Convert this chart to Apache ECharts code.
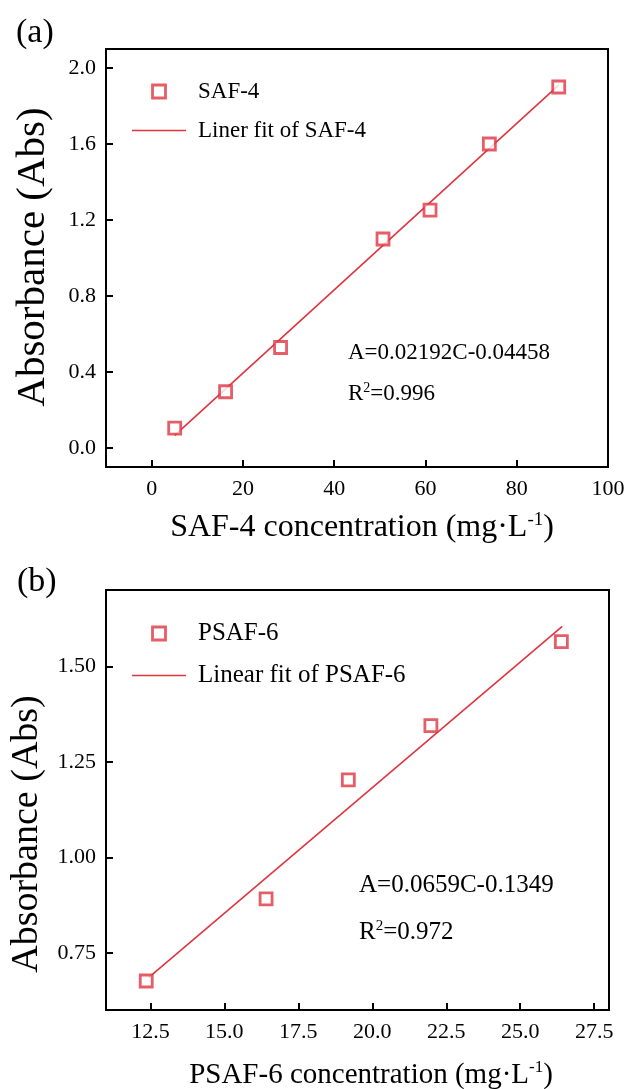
<!DOCTYPE html>
<html>
<head>
<meta charset="utf-8">
<script src="https://cdn.jsdelivr.net/npm/echarts@6/dist/echarts.min.js"></script>
<style>
html,body{margin:0;padding:0;background:#fff;}
#chart{width:629px;height:1089px;}
</style>
</head>
<body>
<div id="chart"></div>
<script>
// ---- data (a) SAF-4 ----
const concA = [5.05, 16.2, 28.25, 50.7, 61.0, 74.0, 89.2];
const absA  = [0.105, 0.296, 0.529, 1.10, 1.252, 1.60, 1.90];
const fitAX = [5.05, 89.2];
const fitAY = [0.066, 1.91];
const xTicksA = [0, 20, 40, 60, 80, 100];
const yTicksA = [0.0, 0.4, 0.8, 1.2, 1.6, 2.0];

// ---- data (b) PSAF-6 ----
const concB = [12.36, 16.41, 19.19, 21.98, 26.39];
const absB  = [0.676, 0.891, 1.2025, 1.345, 1.565];
const fitBX = [12.44, 26.42];
const fitBY = [0.685, 1.605];
const xTicksB = [12.5, 15.0, 17.5, 20.0, 22.5, 25.0, 27.5];
const yTicksB = [0.75, 1.00, 1.25, 1.50];

const namesA = ['SAF-4', 'Liner fit of SAF-4'];
const namesB = ['PSAF-6', 'Linear fit of PSAF-6'];

const FONT = '"Liberation Serif", "Times New Roman", serif';
const RED = '#df3540';
const SQUARE_ICON = 'path://M0,0h10v10h-10z';
const LINE_ICON = 'path://M0,0h36v1h-36z';

const zip = (xs, ys) => xs.map((x, i) => [x, ys[i]]);

function xAxisCfg(gi, min, max, ticks, dec) {
  return {
    gridIndex: gi, type: 'value', min: min, max: max,
    axisLine: {show: true, onZero: false, lineStyle: {color: '#000', width: 2}},
    axisTick: {show: true, inside: true, length: 7, customValues: ticks, lineStyle: {color: '#000', width: 2}},
    axisLabel: {customValues: ticks, fontFamily: FONT, fontSize: 22, color: '#000', margin: 11,
      formatter: v => dec ? Number(v).toFixed(dec) : String(v)},
    splitLine: {show: false}
  };
}
function yAxisCfg(gi, min, max, ticks, dec) {
  return {
    gridIndex: gi, type: 'value', min: min, max: max,
    axisLine: {show: true, onZero: false, lineStyle: {color: '#000', width: 2}},
    axisTick: {show: true, inside: true, length: 7, customValues: ticks, lineStyle: {color: '#000', width: 2}},
    axisLabel: {customValues: ticks, fontFamily: FONT, fontSize: 22, color: '#000', margin: 10,
      formatter: v => Number(v).toFixed(dec)},
    splitLine: {show: false}
  };
}
function legendCfg(names, top, fs, gap) {
  return {
    data: [
      {name: names[0], icon: SQUARE_ICON, itemStyle: {color: '#fff', borderColor: RED, borderWidth: 2.8}},
      {name: names[1], icon: LINE_ICON, itemStyle: {color: RED, borderWidth: 0}, lineStyle: {width: 0}}
    ],
    orient: 'vertical', left: 132, top: top, padding: 0,
    itemWidth: 54, itemHeight: 13, itemGap: gap, selectedMode: false, symbolKeepAspect: true,
    textStyle: {fontFamily: FONT, fontSize: fs, color: '#000', padding: [0, 0, 0, 7]}
  };
}
function supText(x, y, pre, sup, post, fs, align) {
  return {
    type: 'text', x: x, y: y,
    style: {
      text: '{n|' + pre + '}{s|' + sup + '}{n|' + post + '}',
      align: align || 'left', verticalAlign: 'middle',
      rich: {
        n: {fontFamily: FONT, fontSize: fs, lineHeight: fs + 6, fill: '#000'},
        s: {fontFamily: FONT, fontSize: Math.round(fs * 0.6), lineHeight: Math.round(fs * 0.6), verticalAlign: 'top', padding: [2, 0, 0, 0], fill: '#000'}
      }
    }
  };
}
function plainText(x, y, txt, fs, rot) {
  return {
    type: 'text', x: x, y: y, rotation: rot || 0,
    style: {text: txt, fontFamily: FONT, fontSize: fs, fill: '#000',
      align: rot ? 'center' : 'left', verticalAlign: 'middle'}
  };
}

const chart = echarts.init(document.getElementById('chart'), null, {renderer: 'canvas'});
chart.setOption({
  animation: false,
  backgroundColor: '#fff',
  grid: [
    {left: 106, top: 49, width: 502, height: 418, show: true, borderColor: '#000', borderWidth: 2, backgroundColor: 'transparent'},
    {left: 106, top: 590, width: 503, height: 420, show: true, borderColor: '#000', borderWidth: 2, backgroundColor: 'transparent'}
  ],
  xAxis: [xAxisCfg(0, -10, 100, xTicksA, 0), xAxisCfg(1, 11, 28, xTicksB, 1)],
  yAxis: [yAxisCfg(0, -0.1, 2.1, yTicksA, 1), yAxisCfg(1, 0.6, 1.7, yTicksB, 2)],
  legend: [legendCfg(namesA, 80, 23, 16), legendCfg(namesB, 621, 25, 17)],
  series: [
    {name: namesA[1], type: 'line', xAxisIndex: 0, yAxisIndex: 0, data: zip(fitAX, fitAY),
      symbol: 'none', lineStyle: {color: RED, width: 1.6}, itemStyle: {color: RED}, z: 2},
    {name: namesA[0], type: 'scatter', xAxisIndex: 0, yAxisIndex: 0, data: zip(concA, absA),
      symbol: 'rect', symbolSize: 12, itemStyle: {color: '#fff', borderColor: RED, borderWidth: 2.8}, z: 3},
    {name: namesB[1], type: 'line', xAxisIndex: 1, yAxisIndex: 1, data: zip(fitBX, fitBY),
      symbol: 'none', lineStyle: {color: RED, width: 1.6}, itemStyle: {color: RED}, z: 2},
    {name: namesB[0], type: 'scatter', xAxisIndex: 1, yAxisIndex: 1, data: zip(concB, absB),
      symbol: 'rect', symbolSize: 12, itemStyle: {color: '#fff', borderColor: RED, borderWidth: 2.8}, z: 3}
  ],
  graphic: [
    plainText(16, 33, '(a)', 34),
    plainText(17, 582, '(b)', 34),
    plainText(33, 257, 'Absorbance (Abs)', 41, Math.PI / 2),
    plainText(27, 834, 'Absorbance (Abs)', 38, Math.PI / 2),
    supText(362, 528, 'SAF-4 concentration (mg\u00b7L', '-1', ')', 32, 'center'),
    supText(371, 1075, 'PSAF-6 concentration (mg\u00b7L', '-1', ')', 29, 'center'),
    plainText(348, 353, 'A=0.02192C-0.04458', 23),
    supText(348, 394, 'R', '2', '=0.996', 23),
    plainText(359, 885, 'A=0.0659C-0.1349', 25),
    supText(359, 932, 'R', '2', '=0.972', 25)
  ]
});
</script>
</body>
</html>
